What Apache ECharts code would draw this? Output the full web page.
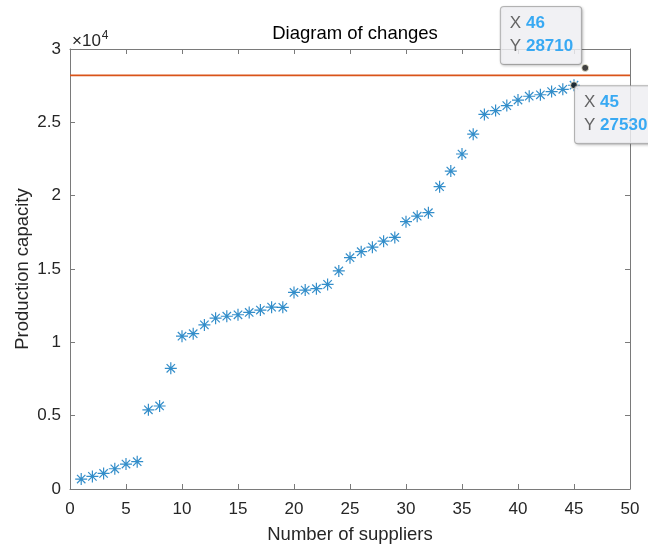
<!DOCTYPE html>
<html>
<head>
<meta charset="utf-8">
<title>Diagram of changes</title>
<script src="https://cdn.jsdelivr.net/npm/echarts@6/dist/echarts.min.js"></script>
<style>
  html, body { margin: 0; padding: 0; background: #ffffff; }
  #chart { width: 648px; height: 545px; }
</style>
</head>
<body>
<div id="chart"></div>
<script>
// Supplier index (x) and production capacity (y)
const supplierIdx = [
  1, 2, 3, 4, 5, 6, 7, 8, 9, 10,
  11, 12, 13, 14, 15, 16, 17, 18, 19, 20,
  21, 22, 23, 24, 25, 26, 27, 28, 29, 30,
  31, 32, 33, 34, 35, 36, 37, 38, 39, 40,
  41, 42, 43, 44, 45
];
const capacity = [
  680, 860, 1060, 1380, 1700, 1860, 5400, 5660, 8230, 10420,
  10590, 11190, 11650, 11780, 11880, 12040, 12200, 12400, 12390, 13400,
  13560, 13660, 13950, 14870, 15770, 16180, 16490, 16900, 17150, 18230,
  18600, 18840, 20610, 21680, 22840, 24190, 25540, 25800, 26140, 26520,
  26780, 26880, 27100, 27250, 27530
];

// Horizontal reference level
const refLevel = 28200;
const xRange = [0, 50];

// Data tips
const tipX = [46, 45];
const tipY = [28710, 27530];

// Axis ticks
const xTicks = [0, 5, 10, 15, 20, 25, 30, 35, 40, 45, 50];
const yTickLabels = ['0', '0.5', '1', '1.5', '2', '2.5', '3'];
const yScale = 10000;

const FONT = '"Liberation Sans", Arial, Helvetica, sans-serif';
const AXIS_COLOR = '#7a7a7a';
const TEXT_COLOR = '#262626';
const BLUE = '#0072BD';
const ORANGE = '#D95319';

const asterisk = 'path://M0,-10L0,10M-10,0L10,0M-7,-7L7,7M-7,7L7,-7';

const chart = echarts.init(document.getElementById('chart'), null, { renderer: 'canvas' });

const baseAxisLine = { show: true, onZero: false, lineStyle: { color: AXIS_COLOR, width: 1 } };
const baseTick = { show: true, inside: true, length: 5, lineStyle: { color: AXIS_COLOR, width: 1 } };

// Data tip box: "X value / Y value", left-aligned lines
const tipLabel = (align, vAlign, pos) => ({
  show: true,
  position: pos,
  align: align,
  verticalAlign: vAlign,
  formatter: p => '{k|X }{v|' + p.value[0] + '}\n{k|Y }{v|' + p.value[1] + '}',
  rich: {
    k: { fontFamily: FONT, fontSize: 17, color: '#404040', lineHeight: 23, align: 'left' },
    v: { fontFamily: FONT, fontSize: 17, fontWeight: 'bold', color: '#0a97f2', lineHeight: 23, align: 'left' }
  },
  backgroundColor: '#f9f9fd',
  borderColor: '#a9a9a9',
  borderWidth: 1,
  borderRadius: 3,
  padding: [5, 8, 6, 9],
  shadowColor: 'rgba(0,0,0,0.22)',
  shadowBlur: 3,
  shadowOffsetX: 1,
  shadowOffsetY: 1
});

const option = {
  animation: false,
  backgroundColor: '#ffffff',
  title: {
    text: 'Diagram of changes',
    left: 350,
    top: 19,
    textAlign: 'center',
    textStyle: { fontFamily: FONT, fontSize: 18.5, fontWeight: 'normal', color: '#000000' }
  },
  grid: { left: 70, right: 18, top: 49, bottom: 56, containLabel: false, outerBoundsMode: 'none' },
  graphic: [
    {
      type: 'text',
      left: 72,
      top: 30,
      style: {
        text: '×10{s|4}',
        fontFamily: FONT,
        fontSize: 17,
        fill: TEXT_COLOR,
        rich: { s: { fontSize: 12, padding: [0, 0, 10, 1], fill: TEXT_COLOR } }
      }
    }
  ],
  xAxis: [
    {
      type: 'value', position: 'bottom',
      min: xTicks[0], max: xTicks[xTicks.length - 1], interval: xTicks[1] - xTicks[0],
      axisLine: baseAxisLine, axisTick: baseTick, splitLine: { show: false },
      axisLabel: { fontFamily: FONT, fontSize: 17, color: TEXT_COLOR, margin: 12 },
      name: 'Number of suppliers', nameLocation: 'middle', nameGap: 36, nameMoveOverlap: false,
      nameTextStyle: { fontFamily: FONT, fontSize: 18.5, color: TEXT_COLOR }
    },
    {
      type: 'value', position: 'top',
      min: xTicks[0], max: xTicks[xTicks.length - 1], interval: xTicks[1] - xTicks[0],
      axisLine: baseAxisLine, axisTick: baseTick, splitLine: { show: false },
      axisLabel: { show: false }
    }
  ],
  yAxis: [
    {
      type: 'value', position: 'left',
      min: 0, max: (yTickLabels.length - 1) * 5000, interval: 5000,
      axisLine: baseAxisLine, axisTick: baseTick, splitLine: { show: false },
      axisLabel: {
        fontFamily: FONT, fontSize: 17, color: TEXT_COLOR, margin: 9,
        formatter: v => yTickLabels[Math.round(v / 5000)] ?? String(v / yScale)
      },
      name: 'Production capacity', nameLocation: 'middle', nameGap: 38, nameMoveOverlap: false,
      nameTextStyle: { fontFamily: FONT, fontSize: 18.5, color: TEXT_COLOR }
    },
    {
      type: 'value', position: 'right',
      min: 0, max: (yTickLabels.length - 1) * 5000, interval: 5000,
      axisLine: baseAxisLine, axisTick: baseTick, splitLine: { show: false },
      axisLabel: { show: false }
    }
  ],
  series: [
    {
      name: 'capacity',
      type: 'scatter',
      data: supplierIdx.map((x, i) => [x, capacity[i]]),
      symbol: asterisk,
      symbolSize: 12,
      itemStyle: { color: 'rgba(0,0,0,0)', borderColor: BLUE, borderWidth: 1.2 },
      z: 3
    },
    {
      name: 'level',
      type: 'line',
      data: xRange.map(x => [x, refLevel]),
      showSymbol: false,
      symbol: 'none',
      lineStyle: { color: ORANGE, width: 1.6 },
      z: 2
    },
    {
      name: 'tip46',
      type: 'scatter',
      data: [[tipX[0], tipY[0]]],
      symbol: 'circle',
      symbolSize: 7,
      itemStyle: { color: '#111111', borderColor: '#f3f0d8', borderWidth: 1 },
      label: tipLabel('right', 'bottom', [0, 0]),
      z: 10
    },
    {
      name: 'tip45',
      type: 'scatter',
      data: [[tipX[1], tipY[1]]],
      symbol: 'circle',
      symbolSize: 7,
      itemStyle: { color: '#111111', borderColor: '#f3f0d8', borderWidth: 1 },
      label: tipLabel('left', 'top', [5, 5]),
      z: 10
    }
  ]
};

chart.setOption(option);
</script>
</body>
</html>
